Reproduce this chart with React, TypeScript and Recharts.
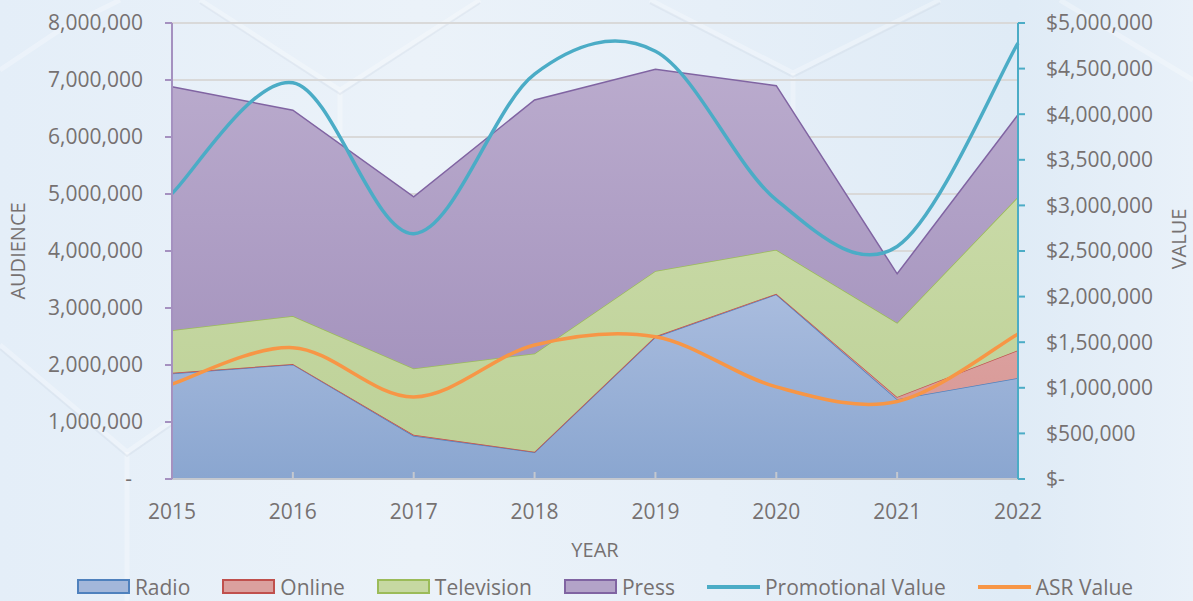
import React from "react"
import { ComposedChart, Area, Line, XAxis, YAxis, CartesianGrid, Legend } from "recharts"

const years = ["2015", "2016", "2017", "2018", "2019", "2020", "2021", "2022"]
const radio = [1850000, 2010000, 760000, 470000, 2490000, 3240000, 1400000, 1770000]
const online = [12000, 9000, 15000, 8000, 14000, 11000, 40000, 490000]
const television = [748000, 841000, 1165000, 1722000, 1146000, 769000, 1300000, 2690000]
const press = [4270000, 3610000, 3010000, 4450000, 3540000, 2880000, 860000, 1440000]
const promotionalValue = [3130000, 4345000, 2690000, 4440000, 4690000, 3060000, 2550000, 4780000]
const asrValue = [1040000, 1440000, 900000, 1470000, 1560000, 1010000, 850000, 1590000]

const audienceTicks = [0, 1000000, 2000000, 3000000, 4000000, 5000000, 6000000, 7000000, 8000000]
const valueTicks = [0, 500000, 1000000, 1500000, 2000000, 2500000, 3000000, 3500000, 4000000, 4500000, 5000000]

const data = years.map((year, i) => ({
  year,
  radio: radio[i],
  online: online[i],
  television: television[i],
  press: press[i],
  promo: promotionalValue[i],
  asr: asrValue[i],
}))

const FONT = "'Open Sans', 'Noto Sans', sans-serif"
const TEXT = "#767171"

// Excel-like smoothed line (Catmull-Rom through every point)
const excelSmooth = (context: any) => {
  let pts: number[][] = []
  return {
    areaStart() {},
    areaEnd() {},
    lineStart() {
      pts = []
    },
    point(x: number, y: number) {
      pts.push([+x, +y])
    },
    lineEnd() {
      const n = pts.length
      if (!n) return
      context.moveTo(pts[0][0], pts[0][1])
      for (let i = 0; i < n - 1; i++) {
        const p0 = pts[i - 1] || pts[i]
        const p1 = pts[i]
        const p2 = pts[i + 1]
        const p3 = pts[i + 2] || pts[i + 1]
        context.bezierCurveTo(
          p1[0] + (p2[0] - p0[0]) / 6,
          p1[1] + (p2[1] - p0[1]) / 6,
          p2[0] - (p3[0] - p1[0]) / 6,
          p2[1] - (p3[1] - p1[1]) / 6,
          p2[0],
          p2[1]
        )
      }
    },
  }
}

const fmtAudience = (v: number) => (v === 0 ? "-\u00A0\u00A0" : v.toLocaleString("en-US"))
const fmtValue = (v: number) => (v === 0 ? "$-" : "$" + v.toLocaleString("en-US"))

const legendItems = [
  { name: "Radio", kind: "box", fill: "#a3b7da", stroke: "#4f81bd" },
  { name: "Online", kind: "box", fill: "#dba09e", stroke: "#c0504d" },
  { name: "Television", kind: "box", fill: "#c6d8a2", stroke: "#9bbb59" },
  { name: "Press", kind: "box", fill: "#b3a3c8", stroke: "#8064a2" },
  { name: "Promotional Value", kind: "line", stroke: "#4bacc6" },
  { name: "ASR Value", kind: "line", stroke: "#f79646" },
]

const renderLegend = () => (
  <div
    style={{
      display: "flex",
      justifyContent: "center",
      alignItems: "center",
      height: 29,
      fontFamily: FONT,
      fontSize: 21,
      color: TEXT,
      paddingLeft: 49,
    }}
  >
    {legendItems.map((item) => (
      <div key={item.name} style={{ display: "flex", alignItems: "center", marginRight: 32 }}>
        {item.kind === "box" ? (
          <div
            style={{
              width: 49,
              height: 11,
              background: item.fill,
              border: `2px solid ${item.stroke}`,
              marginRight: 5,
            }}
          />
        ) : (
          <div style={{ width: 53, height: 4, background: item.stroke, marginRight: 5 }} />
        )}
        <span>{item.name}</span>
      </div>
    ))}
  </div>
)

// faint hexagon lattice behind the chart
const Backdrop = () => (
  <svg width={1193} height={601} style={{ position: "absolute", left: 0, top: 0 }}>
    <g fill="none" stroke="#ffffff" strokeOpacity={0.28} strokeWidth={5}>
      <polyline points="200,0 340,90 480,0" />
      <line x1={340} y1={90} x2={340} y2={240} />
      <polyline points="650,0 793,73 940,0" />
      <line x1={793} y1={73} x2={793} y2={240} />
      <polyline points="0,345 127,452 260,360" />
      <line x1={127} y1={452} x2={127} y2={601} />
      <polyline points="0,70 60,30 120,0" />
      <polyline points="1060,0 1193,80" />
    </g>
    <g fill="none" stroke="#b8c4d2" strokeOpacity={0.18} strokeWidth={2}>
      <polyline points="200,3 340,94 480,3" />
      <polyline points="650,3 793,77 940,3" />
      <polyline points="0,349 127,456 260,364" />
    </g>
  </svg>
)

export default function App() {
  return (
    <div
      style={{
        position: "absolute",
        left: 0,
        top: 0,
        width: 1193,
        height: 601,
        background:
          "linear-gradient(90deg, #e4eef8 0%, #ebf2f9 35%, #e6eff8 60%, #dfebf6 85%, #e9f1f9 100%)",
        overflow: "hidden",
      }}
    >
      <Backdrop />
      <div style={{ position: "absolute", left: 0, top: 0 }}>
        <ComposedChart
          width={1193}
          height={601}
          data={data}
          margin={{ top: 23, right: 0, bottom: 0, left: 0 }}
        >
          <defs>
            <linearGradient id="gRadio" x1="0" y1="0" x2="0" y2="1">
              <stop offset="0%" stopColor="#a9bcde" />
              <stop offset="100%" stopColor="#8aa6d0" />
            </linearGradient>
            <linearGradient id="gOnline" x1="0" y1="0" x2="0" y2="1">
              <stop offset="0%" stopColor="#dda6a4" />
              <stop offset="100%" stopColor="#d79593" />
            </linearGradient>
            <linearGradient id="gTv" x1="0" y1="0" x2="0" y2="1">
              <stop offset="0%" stopColor="#c9daa7" />
              <stop offset="100%" stopColor="#bdd197" />
            </linearGradient>
            <linearGradient id="gPress" x1="0" y1="0" x2="0" y2="1">
              <stop offset="0%" stopColor="#baabcd" />
              <stop offset="100%" stopColor="#a594be" />
            </linearGradient>
          </defs>
          <CartesianGrid yAxisId="left" vertical={false} stroke="#d9d9d9" strokeWidth={2} />
          <XAxis
            dataKey="year"
            scale="point"
            padding={{ left: 0, right: 0 }}
            height={93}
            stroke="#c4c8cf"
            strokeWidth={2}
            tickSize={-7}
            tickMargin={32}
            tick={{ fill: TEXT, fontSize: 21, fontFamily: FONT }}
            label={{
              value: "YEAR",
              position: "insideBottom",
              offset: 15,
              fill: TEXT,
              fontSize: 20,
              fontFamily: FONT,
            }}
          />
          <YAxis
            yAxisId="left"
            domain={[0, 8000000]}
            ticks={audienceTicks}
            interval={0}
            width={172}
            stroke="#a591c0"
            strokeWidth={2}
            tickSize={7}
            tickMargin={22}
            tickFormatter={fmtAudience}
            tick={{ fill: TEXT, fontSize: 21, fontFamily: FONT }}
            label={{
              value: "AUDIENCE",
              angle: -90,
              position: "center",
              dx: -68,
              fill: TEXT,
              fontSize: 20,
              fontFamily: FONT,
            }}
          />
          <YAxis
            yAxisId="right"
            orientation="right"
            domain={[0, 5000000]}
            ticks={valueTicks}
            interval={0}
            width={175}
            stroke="#4bacc6"
            strokeWidth={2}
            tickSize={7}
            tickMargin={21}
            tickFormatter={fmtValue}
            tick={{ fill: TEXT, fontSize: 21, fontFamily: FONT, textAnchor: "start" }}
            label={{
              value: "VALUE",
              angle: -90,
              position: "center",
              dx: 73,
              dy: -12,
              fill: TEXT,
              fontSize: 20,
              fontFamily: FONT,
            }}
          />
          <Legend verticalAlign="bottom" height={29} content={renderLegend} />
          <Area
            yAxisId="left"
            type="linear"
            dataKey="radio"
            name="Radio"
            stackId="a"
            stroke="#4f81bd"
            strokeWidth={1.5}
            fill="url(#gRadio)"
            fillOpacity={1}
            isAnimationActive={false}
          />
          <Area
            yAxisId="left"
            type="linear"
            dataKey="online"
            name="Online"
            stackId="a"
            stroke="#c0504d"
            strokeWidth={1.5}
            fill="url(#gOnline)"
            fillOpacity={1}
            isAnimationActive={false}
          />
          <Area
            yAxisId="left"
            type="linear"
            dataKey="television"
            name="Television"
            stackId="a"
            stroke="#9bbb59"
            strokeWidth={1.5}
            fill="url(#gTv)"
            fillOpacity={1}
            isAnimationActive={false}
          />
          <Area
            yAxisId="left"
            type="linear"
            dataKey="press"
            name="Press"
            stackId="a"
            stroke="#8064a2"
            strokeWidth={1.5}
            fill="url(#gPress)"
            fillOpacity={1}
            isAnimationActive={false}
          />
          <Line
            yAxisId="right"
            type={excelSmooth as any}
            dataKey="promo"
            name="Promotional Value"
            stroke="#4bacc6"
            strokeWidth={3.5}
            dot={false}
            isAnimationActive={false}
          />
          <Line
            yAxisId="right"
            type={excelSmooth as any}
            dataKey="asr"
            name="ASR Value"
            stroke="#f79646"
            strokeWidth={3.5}
            dot={false}
            isAnimationActive={false}
          />
        </ComposedChart>
      </div>
    </div>
  )
}
